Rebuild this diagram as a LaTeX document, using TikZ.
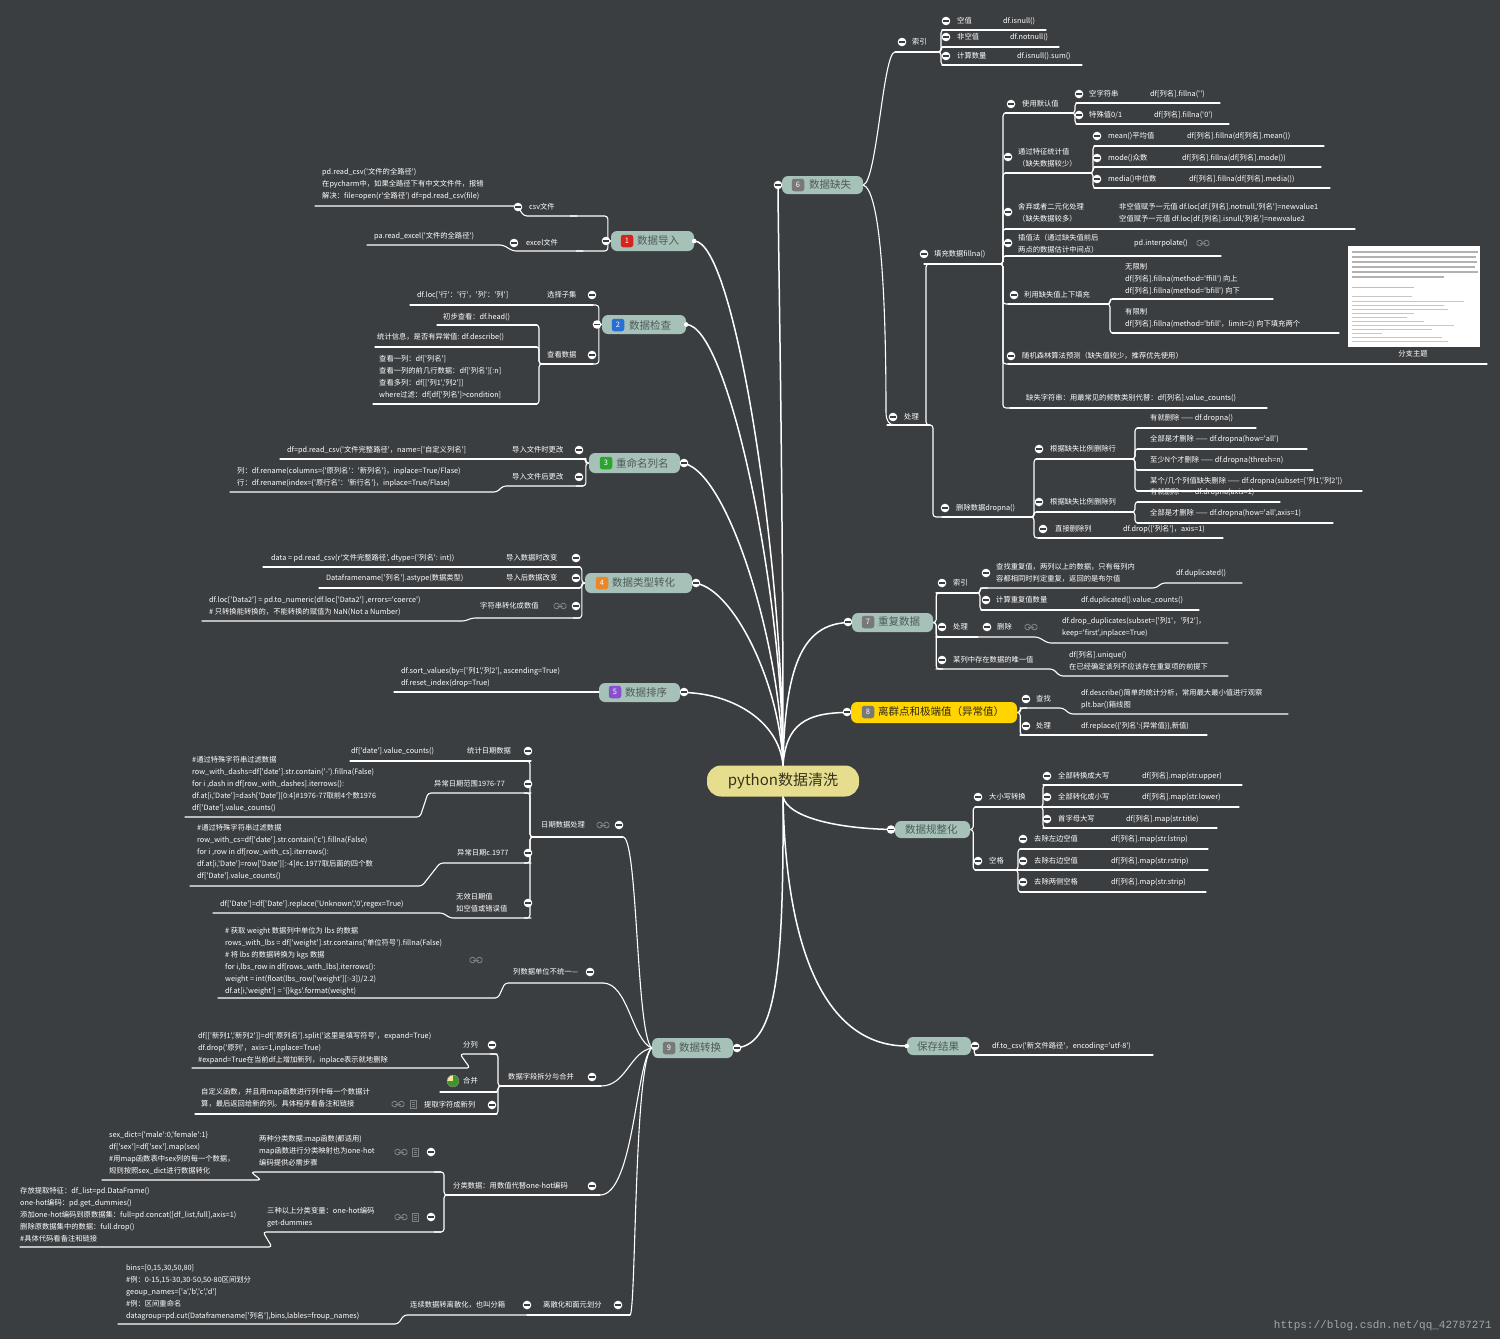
\documentclass[tikz,border=0pt]{standalone}
\usepackage{fontspec}
\newfontfamily\cjk{Noto Sans CJK SC}
\newfontfamily\wmfont{Liberation Mono}
\definecolor{bgc}{RGB}{58,62,65}
\definecolor{nfill}{RGB}{166,193,183}
\definecolor{ntext}{RGB}{78,90,90}
\definecolor{rootfill}{RGB}{230,222,142}
\definecolor{roottext}{RGB}{55,50,30}
\definecolor{yel}{RGB}{255,212,0}
\definecolor{yeltext}{RGB}{45,40,20}
\definecolor{ic1}{RGB}{215,35,30}
\definecolor{ic2}{RGB}{40,110,215}
\definecolor{ic3}{RGB}{45,165,45}
\definecolor{ic4}{RGB}{235,135,40}
\definecolor{ic5}{RGB}{135,80,205}
\definecolor{icg}{RGB}{120,120,120}
\definecolor{iconc}{RGB}{125,128,130}
\definecolor{pieyel}{RGB}{240,232,160}
\definecolor{piegreen}{RGB}{60,150,40}
\tikzset{
  tx/.style={text=white, font=\cjk\fontsize{7.3}{12}\selectfont, inner sep=0pt, anchor=west, align=left},
  ul/.style={draw=white, line width=1.1pt, line cap=round},
  conn/.style={draw=white, line width=1.1pt, rounded corners=3pt},
  mconn/.style={draw=white, line width=1.5pt},
  mbox/.style={fill=nfill, rounded corners=6pt, inner sep=0pt, draw=none},
  mtx/.style={text=ntext, font=\cjk\fontsize{10.5}{12}\selectfont, inner sep=0pt, anchor=west},
  numi/.style={rounded corners=2.5pt, minimum size=12.5pt, inner sep=0pt, text=white, font=\cjk\fontsize{7.5}{8}\selectfont},
  btn/.pic={\fill[white] (0,0) circle (4.3); \draw[bgc, line width=1.2pt] (-2.6,0) -- (2.6,0);},
  linkic/.pic={\draw[iconc, line width=0.9pt, rounded corners=1.5pt] (-6,-2.6) rectangle (-0.8,2.6); \draw[iconc, line width=0.9pt, rounded corners=1.5pt] (0.8,-2.6) rectangle (6,2.6); \draw[iconc, line width=0.9pt] (-3,0) -- (3,0);},
  noteic/.pic={\draw[iconc, line width=0.8pt] (-3,-4) rectangle (3,4); \draw[iconc, line width=0.6pt] (-1.5,-1.8) -- (1.5,-1.8) (-1.5,0) -- (1.5,0) (-1.5,1.8) -- (1.5,1.8);},
  pieic/.pic={\fill[pieyel] (0,0) circle (6); \fill[piegreen] (0,0) -- (0,-6) arc[start angle=-90, end angle=180, radius=6] -- cycle; \draw[gray, line width=0.4pt] (0,0) circle (6);}
}
\newcommand\mmT[3]{\node[tx] (#1) at (#2) {#3};}
\newcommand\mmU[3]{\coordinate (#1s) at (#2); \coordinate (#1e) at (#3); \draw[ul] (#1s) -- (#1e);}
\newcommand\mmUS[5]{\coordinate (#1s) at (#2); \coordinate (#1e) at (#5); \draw[ul, rounded corners=3pt] (#1s) -- (#3) -- (#4) -- (#1e);}
\newcommand\mmCR[2]{\draw[conn] (#1) -- ++(3,0) |- ([xshift=7pt]#2);}
\newcommand\mmCL[2]{\draw[conn] (#1) -- ++(-3,0) |- ([xshift=-7pt]#2);}
\begin{document}
\begin{tikzpicture}[x=1pt,y=-1pt]
\useasboundingbox (0,0) rectangle (1500,1339);
\fill[bgc] (0,0) rectangle (1500,1339);

% ---------- main nodes ----------
\node[fill=rootfill, rounded corners=14pt, minimum width=152pt, minimum height=31pt, inner sep=0pt, text=roottext, font=\cjk\fontsize{15}{18}\selectfont] (root) at (783,781) {python数据清洗};

\node[mbox, minimum width=83pt, minimum height=20pt] (m1) at (652.5,241) {};
\node[numi, fill=ic1] (m1i) at (627,241) {1};
\node[mtx] (m1t) at (637,241) {数据导入};

\node[mbox, minimum width=84pt, minimum height=19pt] (m2) at (644,324.5) {};
\node[numi, fill=ic2] (m2i) at (618,325) {2};
\node[mtx] (m2t) at (629,325) {数据检查};

\node[mbox, minimum width=91pt, minimum height=20pt] (m3) at (634.5,463) {};
\node[numi, fill=ic3] (m3i) at (606,463) {3};
\node[mtx] (m3t) at (616,463) {重命名列名};

\node[mbox, minimum width=107pt, minimum height=20pt] (m4) at (638.5,583) {};
\node[numi, fill=ic4] (m4i) at (602,583) {4};
\node[mtx] (m4t) at (612,583) {数据类型转化};

\node[mbox, minimum width=81pt, minimum height=19pt] (m5) at (639.5,692.5) {};
\node[numi, fill=ic5] (m5i) at (615,692) {5};
\node[mtx] (m5t) at (625,692) {数据排序};

\node[mbox, minimum width=81pt, minimum height=18pt] (m6) at (822.5,185) {};
\node[numi, fill=icg] (m6i) at (798,185) {6};
\node[mtx] (m6t) at (809,185) {数据缺失};

\node[mbox, minimum width=81pt, minimum height=19pt] (m7) at (892.5,622.5) {};
\node[numi, fill=icg] (m7i) at (868,622) {7};
\node[mtx] (m7t) at (878,622) {重复数据};

\node[mbox, fill=yel, minimum width=166pt, minimum height=21pt] (m8) at (934,712.5) {};
\node[numi, fill=icg] (m8i) at (868,712) {8};
\node[mtx, text=yeltext] (m8t) at (878,712) {离群点和极端值（异常值）};

\node[mbox, minimum width=75pt, minimum height=17pt] (m10) at (932.5,829.5) {};
\node[mtx] (m10t) at (905,829.5) {数据规整化};

\node[mbox, minimum width=64pt, minimum height=18pt] (m11) at (939,1046) {};
\node[mtx] (m11t) at (917,1046) {保存结果};

\node[mbox, minimum width=81pt, minimum height=20pt] (m9) at (692.5,1048) {};
\node[numi, fill=icg] (m9i) at (669,1048) {9};
\node[mtx] (m9t) at (679,1048) {数据转换};

% ---------- main connectors ----------
\draw[mconn] (root.north) .. controls (783,560) and (735,241) .. (m1.east);
\draw[mconn] (root.north) .. controls (783,590) and (728,325) .. (m2.east);
\draw[mconn] (root.north) .. controls (781,640) and (725,463) .. (m3.east);
\draw[mconn] (root.north) .. controls (780,680) and (730,583) .. (m4.east);
\draw[mconn] (root.north) .. controls (779,720) and (730,692) .. (m5.east);
\coordinate (m6in) at (778,189);
\draw[mconn] (root.north) .. controls (783,480) and (779,300) .. (m6in);
\draw[mconn] (root.north) .. controls (785,660) and (805,622) .. (m7.west);
\draw[mconn] (root.north) .. controls (786,725) and (805,712) .. (m8.west);
\draw[mconn] (root.south) .. controls (788,818) and (840,829) .. (m10.west);
\draw[mconn] (root.south) .. controls (786,960) and (830,1046) .. (m11.west);
\draw[mconn] (root.south) .. controls (784,980) and (775,1048) .. (m9.east);
\fill[white] (m1.east) circle (2.3);
\fill[white] (m2.east) circle (2.3);
\fill[white] (m11.west) circle (2.3);

% ---------- 6 数据缺失 ----------
\mmU{ix}{895,52}{938,52}
\draw[ul] (m6.east) .. controls (877,182) and (883,52) .. (ixs);
\mmT{ixt}{912,42}{索引}
\mmU{a1}{942,30}{1046,30} \mmT{a1t}{957,21}{空值} \mmT{a1c}{1003,21}{df.isnull()}
\mmU{a2}{942,47}{1059,47} \mmT{a2t}{957,37}{非空值} \mmT{a2c}{1010,37}{df.notnull()}
\mmU{a3}{942,65}{1082,65} \mmT{a3t}{957,56}{计算数量} \mmT{a3c}{1017,56}{df.isnull().sum()}
\mmCR{ixe}{a1s} \mmCR{ixe}{a2s} \mmCR{ixe}{a3s}

\mmU{cl}{887,425}{930,425}
\draw[ul] (m6.east) .. controls (879,190) and (886,280) .. (886,412) .. controls (886,421) and (889,425) .. ([xshift=8pt]cls);
\mmT{clt}{904,417}{处理}

\mmU{fa}{924,264}{1000,264}
\draw[conn] (cle) -- ++(-4,0) |- ([xshift=7pt]fas);
\mmT{fat}{934,254}{填充数据fillna()}
\mmU{da}{942,517}{1031,517}
\mmCR{cle}{das}
\mmT{dat}{956,508}{删除数据dropna()}

\mmU{b1}{1005,113}{1072,113} \mmT{b1t}{1022,104}{使用默认值}
\mmU{b11}{1076,103}{1220,103} \mmT{b11t}{1089,94}{空字符串} \mmT{b11c}{1150,94}{df[列名].fillna('')}
\mmU{b12}{1076,124}{1229,124} \mmT{b12t}{1089,115}{特殊值0/1} \mmT{b12c}{1154,115}{df[列名].fillna('0')}
\mmCR{b1e}{b11s} \mmCR{b1e}{b12s}
\mmU{b2}{1005,173}{1090,173} \mmT{b2t}{1018,158}{通过特征统计值\\（缺失数据较少）}
\mmU{b21}{1094,146}{1324,146} \mmT{b21t}{1108,136}{mean()平均值} \mmT{b21c}{1187,136}{df[列名].fillna(df[列名].mean())}
\mmU{b22}{1094,167}{1321,167} \mmT{b22t}{1108,158}{mode()众数} \mmT{b22c}{1182,158}{df[列名].fillna(df[列名].mode())}
\mmU{b23}{1094,188}{1330,188} \mmT{b23t}{1108,179}{media()中位数} \mmT{b23c}{1189,179}{df[列名].fillna(df[列名].media())}
\mmCR{b2e}{b21s} \mmCR{b2e}{b22s} \mmCR{b2e}{b23s}
\mmU{b3}{1005,229}{1355,229} \mmT{b3t}{1018,213}{舍弃或者二元化处理\\（缺失数据较多）}
\mmT{b3c}{1119,213}{非空值赋予一元值 df.loc[df.[列名].notnull,'列名']=newvalue1\\空值赋予一元值 df.loc[df.[列名].isnull,'列名']=newvalue2}
\mmU{b4}{1005,256}{1221,256} \mmT{b4t}{1018,244}{插值法（通过缺失值前后\\两点的数据估计中间点）} \mmT{b4c}{1134,243}{pd.interpolate()}
\mmU{b5}{1008,304}{1107,304} \mmT{b5t}{1024,295}{利用缺失值上下填充}
\mmU{b51}{1112,299}{1273,299} \mmT{b51t}{1125,279}{无限制\\df[列名].fillna(method='ffill') 向上\\df[列名].fillna(method='bfill') 向下}
\mmU{b52}{1112,333}{1339,333} \mmT{b52t}{1125,318}{有限制\\df[列名].fillna(method='bfill'，limit=2) 向下填充两个}
\mmCR{b5e}{b51s} \mmCR{b5e}{b52s}
\mmU{b6}{1008,364}{1487,364} \mmT{b6t}{1022,356}{随机森林算法预测（缺失值较少，推荐优先使用）}
\mmU{b7}{1010,408}{1267,408} \mmT{b7t}{1026,398}{缺失字符串：用最常见的频数类别代替：df[列名].value\_counts()}
\mmCR{fae}{b1s} \mmCR{fae}{b2s} \mmCR{fae}{b3s} \mmCR{fae}{b4s} \mmCR{fae}{b5s} \mmCR{fae}{b6s} \mmCR{fae}{b7s}

% thumbnail
\node[fill=white, minimum width=132pt, minimum height=101pt, inner sep=0pt] (thumb) at (1414,296.5) {};
\foreach \yy/\ll in {252/126,257/124,262/125,267/123,272/126,277/92}
  \draw[gray!60, line width=1.1pt] (1352,\yy) -- ++(\ll,0);
\draw[gray!50, line width=0.9pt] (1352,287) -- ++(62,0);
\foreach \yy/\ll in {296/60,301/112,305/92,309/96,313/62,317/55,321/72,325/102,329/80,333/30,337/90,341/96}
  \draw[gray!45, line width=0.8pt] (1352,\yy) -- ++(\ll,0);
\node[tx, anchor=center] (cap) at (1413,354) {分支主题};

\mmU{c1}{1036,459}{1132,459} \mmT{c1t}{1050,449}{根据缺失比例删除行}
\mmU{c11}{1137,428}{1256,428} \mmT{c11t}{1150,418}{有就删除 —— df.dropna()}
\mmU{c12}{1137,449}{1307,449} \mmT{c12t}{1150,439}{全部是才删除 —— df.dropna(how='all')}
\mmU{c13}{1137,470}{1313,470} \mmT{c13t}{1150,460}{至少N个才删除 —— df.dropna(thresh=n)}
\mmU{c14}{1137,491}{1362,491} \mmT{c14t}{1150,481}{某个/几个列值缺失删除 —— df.dropna(subset=['列1','列2'])}
\mmCR{c1e}{c11s} \mmCR{c1e}{c12s} \mmCR{c1e}{c13s} \mmCR{c1e}{c14s}
\mmU{c2}{1036,512}{1132,512} \mmT{c2t}{1050,502}{根据缺失比例删除列}
\mmU{c21}{1137,502}{1280,502} \mmT{c21t}{1150,492}{有就删除 —— df.dropna(axis=1)}
\mmU{c22}{1137,523}{1333,523} \mmT{c22t}{1150,513}{全部是才删除 —— df.dropna(how='all',axis=1)}
\mmCR{c2e}{c21s} \mmCR{c2e}{c22s}
\mmU{c3}{1038,538}{1223,538} \mmT{c3t}{1055,529}{直接删除列} \mmT{c3c}{1123,529}{df.drop(['列名']，axis=1)}
\mmCR{dae}{c1s} \mmCR{dae}{c2s} \mmCR{dae}{c3s}

% ---------- 7 重复数据 ----------
\mmU{d1}{936,593}{977,593} \mmT{d1t}{953,583}{索引}
\mmUS{d11}{981,588}{1156,588}{1162,583}{1242,583}
\mmT{d11t}{996,573}{查找重复值，两列以上的数据，只有每列内\\容都相同时判定重复，返回的是布尔值} \mmT{d11c}{1176,573}{df.duplicated()}
\mmU{d12}{981,610}{1199,610} \mmT{d12t}{996,600}{计算重复值数量} \mmT{d12c}{1081,600}{df.duplicated().value\_counts()}
\mmCR{d1e}{d11s} \mmCR{d1e}{d12s}
\mmU{d2}{936,637}{978,637} \mmT{d2t}{953,627}{处理}
\mmUS{d21}{978,637}{1038,637}{1048,643}{1228,643}
\mmT{d21t}{997,627}{删除} \mmT{d21c}{1062,627}{df.drop\_duplicates(subset=['列1'，'列2']，\\keep='first',inplace=True)}
\mmUS{d3}{936,669}{1053,669}{1060,676}{1228,676}
\mmT{d3t}{953,660}{某列中存在数据的唯一值} \mmT{d3c}{1069,661}{df[列名].unique()\\在已经确定该列不应该存在重复项的前提下}
\mmCR{m7.east}{d1s} \mmCR{m7.east}{d2s} \mmCR{m7.east}{d3s}

% ---------- 8 离群点 ----------
\mmUS{e1}{1020,708}{1063,708}{1070,714}{1288,714}
\mmT{e1t}{1036,699}{查找} \mmT{e1c}{1081,699}{df.describe()简单的统计分析，常用最大最小值进行观察\\plt.bar()箱线图}
\mmU{e2}{1020,735}{1207,735} \mmT{e2t}{1036,726}{处理} \mmT{e2c}{1081,726}{df.replace(\{'列名':\{异常值\}\},新值)}
\mmCR{m8.east}{e1s} \mmCR{m8.east}{e2s}

% ---------- 数据规整化 ----------
\mmU{f1}{975,807}{1040,807} \mmT{f1t}{989,797}{大小写转换}
\mmU{f11}{1043,785}{1242,785} \mmT{f11t}{1058,776}{全部转换成大写} \mmT{f11c}{1142,776}{df[列名].map(str.upper)}
\mmU{f12}{1040,807}{1239,807} \mmT{f12t}{1058,797}{全部转化成小写} \mmT{f12c}{1142,797}{df[列名].map(str.lower)}
\mmU{f13}{1043,828}{1217,828} \mmT{f13t}{1058,819}{首字母大写} \mmT{f13c}{1126,819}{df[列名].map(str.title)}
\mmCR{f1e}{f11s} \mmCR{f1e}{f13s}
\mmU{f2}{975,870}{1015,870} \mmT{f2t}{989,861}{空格}
\mmU{f21}{1020,849}{1208,849} \mmT{f21t}{1034,839}{去除左边空值} \mmT{f21c}{1111,839}{df[列名].map(str.lstrip)}
\mmU{f22}{1015,870}{1208,870} \mmT{f22t}{1034,861}{去除右边空值} \mmT{f22c}{1111,861}{df[列名].map(str.rstrip)}
\mmU{f23}{1020,892}{1206,892} \mmT{f23t}{1034,882}{去除两侧空格} \mmT{f23c}{1111,882}{df[列名].map(str.strip)}
\mmCR{f2e}{f21s} \mmCR{f2e}{f23s}
\mmCR{m10.east}{f1s} \mmCR{m10.east}{f2s}

% ---------- 保存结果 ----------
\mmU{g1}{975,1055}{1153,1055} \mmT{g1t}{992,1046}{df.to\_csv('新文件路径'，encoding='utf-8')}
\mmCR{m11.east}{g1s}

% ---------- 1 数据导入 ----------
\mmUS{h1}{577,216}{524,216}{517,206}{315,206}
\mmT{h1t}{529,207}{csv文件}
\mmT{h1c}{322,184}{pd.read\_csv('文件的全路径')\\在pycharm中，如果全路径下有中文文件件，报错\\解决：file=open(r'全路径') df=pd.read\_csv(file)}
\mmUS{h2}{583,251}{513,251}{503,245}{367,245}
\mmT{h2t}{526,243}{excel文件} \mmT{h2c}{374,236}{pa.read\_excel('文件的全路径')}
\mmCL{m1.west}{h1s} \mmCL{m1.west}{h2s}

% ---------- 2 数据检查 ----------
\mmU{i1}{593,305}{410,305} \mmT{i1t}{547,295}{选择子集} \mmT{i1c}{417,295}{df.loc['行'：'行'，'列'：'列']}
\mmU{i2}{593,364}{542,364} \mmT{i2t}{547,355}{查看数据}
\mmU{i21}{537,325}{437,325} \mmT{i21t}{443,317}{初步查看：df.head()}
\mmU{i22}{537,347}{375,347} \mmT{i22t}{377,337}{统计信息，是否有异常值: df.describe()}
\mmU{i23}{537,404}{373,404} \mmT{i23t}{379,377}{查看一列：df['列名']\\查看一列的前几行数据：df['列名'][:n]\\查看多列：df[['列1','列2']]\\where过滤：df[df['列名']>condition]}
\mmCL{i2e}{i21s} \mmCL{i2e}{i22s} \mmCL{i2e}{i23s}
\mmCL{m2.west}{i1s} \mmCL{m2.west}{i2s}

% ---------- 3 重命名列名 ----------
\mmU{k1}{586,459}{280,459} \mmT{k1t}{512,450}{导入文件时更改} \mmT{k1c}{287,450}{df=pd.read\_csv('文件完整路径'，name=['自定义列名']}
\mmUS{k2}{583,486}{503,486}{497,492}{230,492}
\mmT{k2t}{512,477}{导入文件后更改}
\mmT{k2c}{237,477}{列：df.rename(columns=\{'原列名'：'新列名'\}，inplace=True/Flase)\\行：df.rename(index=\{'原行名'：'新行名'\}，inplace=True/Flase)}
\mmCL{m3.west}{k1s} \mmCL{m3.west}{k2s}

% ---------- 4 数据类型转化 ----------
\mmU{l1}{580,567}{263,567} \mmT{l1t}{506,558}{导入数据时改变} \mmT{l1c}{271,558}{data = pd.read\_csv(r'文件完整路径', dtype=\{'列名': int\})}
\mmU{l2}{580,588}{319,588} \mmT{l2t}{506,578}{导入后数据改变} \mmT{l2c}{326,578}{Dataframename['列名'].astype(数据类型)}
\mmUS{l3}{580,618}{472,618}{465,621}{202,621}
\mmT{l3t}{480,606}{字符串转化成数值}
\mmT{l3c}{209,606}{df.loc['Data2'] = pd.to\_numeric(df.loc['Data2'] ,errors='coerce')\\\# 只转换能转换的，不能转换的赋值为 NaN(Not a Number)}
\mmCL{m4.west}{l1s} \mmCL{m4.west}{l2s} \mmCL{m4.west}{l3s}

% ---------- 5 数据排序 ----------
\mmU{n1}{599,692}{394,692}
\mmT{n1t}{401,677}{df.sort\_values(by=['列1','列2'], ascending=True)\\df.reset\_index(drop=True)}

% ---------- 9 数据转换 ----------
\mmU{p1}{623,837}{533,837} \mmT{p1t}{541,825}{日期数据处理}
\draw[ul] (m9.west) .. controls (636,1035) and (638,837) .. (p1s);
\mmU{p11}{531,761}{350,761} \mmT{p11t}{467,751}{统计日期数据} \mmT{p11c}{351,751}{df['date'].value\_counts()}
\mmUS{p12}{531,793}{428,793}{420,817}{185,817}
\mmT{p12t}{434,784}{异常日期范围1976-77}
\mmT{p12c}{192,784}{\#通过特殊字符串过滤数据\\row\_with\_dashs=df['date'].str.contain('-').fillna(False)\\for i ,dash in df[row\_with\_dashes].iterrows():\\df.at[i,'Date']=dash['Date'][0:4]\#1976-77取前4个数1976\\df['Date'].value\_counts()}
\mmUS{p13}{531,863}{440,863}{422,886}{190,886}
\mmT{p13t}{457,853}{异常日期c.1977}
\mmT{p13c}{197,852}{\#通过特殊字符串过滤数据\\row\_with\_cs=df['date'].str.contain('c').fillna(False)\\for i ,row in df[row\_with\_cs].iterrows():\\df.at[i,'Date']=row['Date'][:-4]\#c.1977取后面的四个数\\df['Date'].value\_counts()}
\mmUS{p14}{531,918}{450,918}{443,913}{213,913}
\mmT{p14t}{456,903}{无效日期值\\如空值或错误值} \mmT{p14c}{220,904}{df['Date']=df['Date'].replace('Unknown','0',regex=True)}
\mmCL{p1e}{p11s} \mmCL{p1e}{p12s} \mmCL{p1e}{p13s} \mmCL{p1e}{p14s}

\mmUS{p2}{603,983}{505,983}{498,998}{218,998}
\draw[ul] (m9.west) .. controls (632,1040) and (628,983) .. (p2s);
\mmT{p2t}{513,972}{列数据单位不统一—}
\mmT{p2c}{225,961}{\# 获取 weight 数据列中单位为 lbs 的数据\\rows\_with\_lbs = df['weight'].str.contains('单位符号').fillna(False)\\\# 将 lbs 的数据转换为 kgs 数据\\for i,lbs\_row in df[rows\_with\_lbs].iterrows():\\weight = int(float(lbs\_row['weight'][:-3])/2.2)\\df.at[i,'weight'] = '\{\}kgs'.format(weight)}

\mmU{p3}{601,1086}{501,1086} \mmT{p3t}{508,1077}{数据字段拆分与合并}
\draw[ul] (m9.west) .. controls (630,1052) and (626,1086) .. (p3s);
\mmUS{p31}{497,1054}{460,1054}{470,1068}{192,1068}
\mmT{p31t}{463,1045}{分列}
\mmT{p31c}{198,1048}{df[['新列1','新列2']]=df['原列名'].split('这里是填写符号'，expand=True)\\df.drop('原列'，axis=1,inplace=True)\\\#expand=True在当前df上增加新列，inplace表示就地删除}
\mmU{p32}{497,1092}{440,1092} \mmT{p32t}{463,1081}{合并}
\mmU{p33}{497,1114}{195,1114} \mmT{p33t}{424,1105}{提取字符成新列}
\mmT{p33c}{201,1098}{自定义函数，并且用map函数进行列中每一个数据计\\算，最后返回给新的列。具体程序看备注和链接}
\mmCL{p3e}{p31s} \mmCL{p3e}{p32s} \mmCL{p3e}{p33s}

\mmU{p4}{600,1195}{447,1195} \mmT{p4t}{453,1186}{分类数据：用数值代替one-hot编码}
\draw[ul] (m9.west) .. controls (636,1060) and (634,1195) .. (p4s);
\mmUS{p41}{441,1172}{251,1172}{261,1180}{102,1180}
\mmT{p41t}{259,1151}{两种分类数据:map函数(都适用)\\map函数进行分类映射也为one-hot\\编码提供必需步骤}
\mmT{p41c}{109,1153}{sex\_dict=\{'male':0,'female':1\}\\df['sex']=df['sex'].map(sex)\\\#用map函数表中sex列的每一个数据，\\规则按照sex\_dict进行数据转化}
\mmUS{p42}{441,1232}{263,1232}{272,1247}{20,1247}
\mmT{p42t}{267,1217}{三种以上分类变量：one-hot编码\\get-dummies}
\mmT{p42c}{20,1215}{存放提取特征：df\_list=pd.DataFrame()\\one-hot编码：pd.get\_dummies()\\添加one-hot编码到原数据集：full=pd.concat([df\_list,full],axis=1)\\删除原数据集中的数据：full.drop()\\\#具体代码看备注和链接}
\mmCL{p4e}{p41s} \mmCL{p4e}{p42s}

\mmU{p5}{630,1315}{527,1315} \mmT{p5t}{543,1305}{离散化和面元划分}
\draw[ul] (m9.west) .. controls (634,1060) and (636,1315) .. (p5s);
\mmUS{p51}{527,1315}{404,1315}{398,1324}{118,1324}
\mmT{p51t}{410,1305}{连续数据转离散化，也叫分箱}
\mmT{p51c}{126,1292}{bins=[0,15,30,50,80]\\\#例：0-15,15-30,30-50,50-80区间划分\\geoup\_names=['a','b','c','d']\\\#例：区间重命名\\datagroup=pd.cut(Dataframename['列名'],bins,lables=froup\_names)}

% ---------- buttons & icons ----------
\foreach \x/\y in {902/42,946/21,946/37,946/56,893/417,924/254,945/508,1011/104,1079/94,1079/115,1008/157,1097/136,1097/158,1097/179,1008/212,1008/243,1014/295,1011/356,1039/449,1039/502,1043/529,
942/583,986/573,986/600,942/627,987/627,942/660,1026/699,1026/726,
978/797,1047/776,1047/797,1047/819,978/861,1023/839,1023/861,1023/882,975/1046,
778/185,848/622,847/712,891/829.5,606/241,597/324.5,684/463,696/583,684/692,737/1048,
518/207,514/243,592/295,592/355,579/450,579/477,576/558,576/578,576/606,
619/825,528/751,528/784,528/853,528/903,590/972,592/1077,492/1045,492/1105,592/1186,431/1152,431/1217,618/1305,527/1305}
  \pic at (\x,\y) {btn};
\foreach \x/\y in {1203/243,1031/627,560/606,603/825,476/960,398/1104,401/1152,401/1217}
  \pic at (\x,\y) {linkic};
\foreach \x/\y in {413/1104,415/1152,415/1217}
  \pic at (\x,\y) {noteic};
\pic at (453,1081) {pieic};

\node[text=gray!70, font=\wmfont\fontsize{11}{12}\selectfont, anchor=east, inner sep=0pt] (wm) at (1492,1326) {https://blog.csdn.net/qq\_42787271};
\end{tikzpicture}
\end{document}
